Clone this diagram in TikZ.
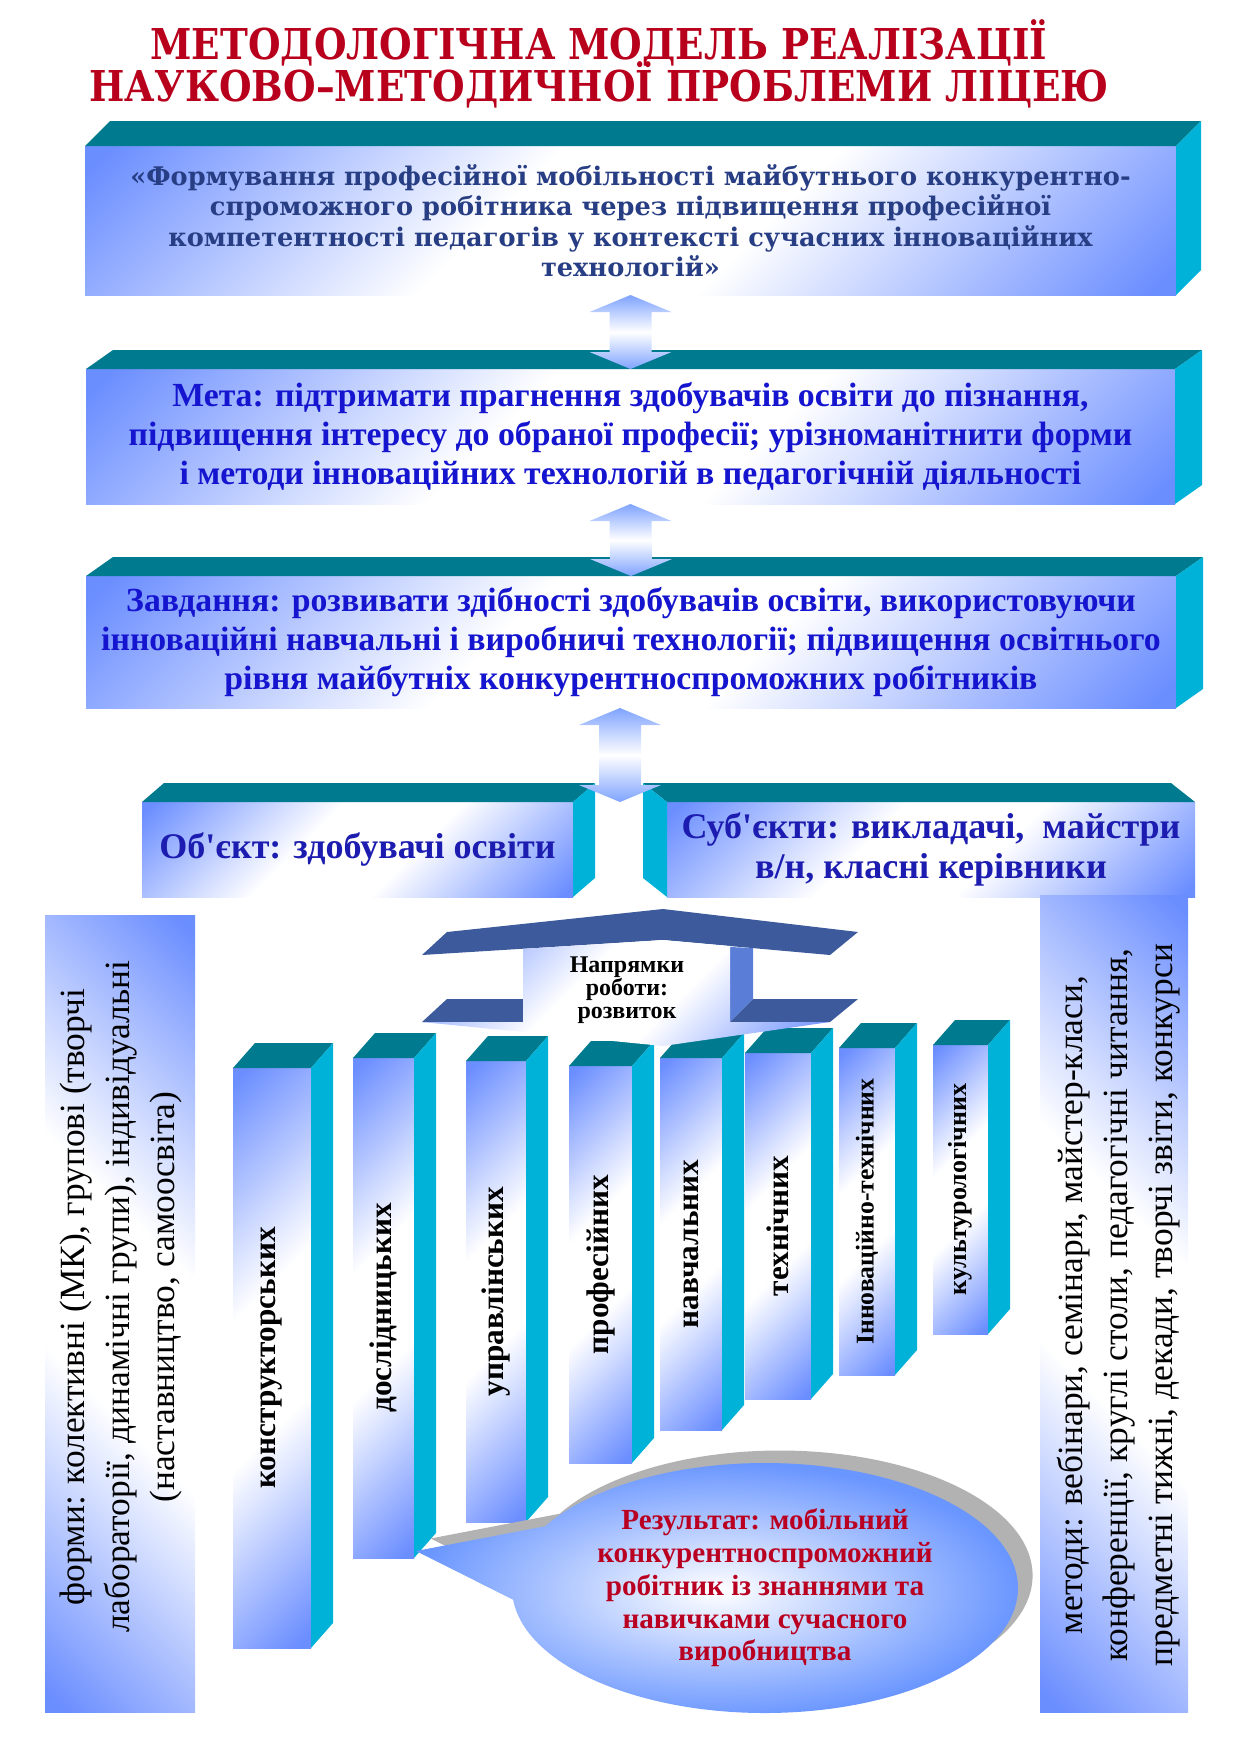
\documentclass[tikz,border=0pt]{standalone}
\usepackage{fontspec}
\setmainfont{Liberation Serif}
\newfontfamily\headfont[FakeStretch=0.88]{DejaVu Serif}
\newfontfamily\quotefont{DejaVu Serif}
\usetikzlibrary{calc, shapes.callouts, shadows}

\definecolor{glassblue}{HTML}{6B8EFF}
\definecolor{arrowblue}{HTML}{7FA3FF}
\definecolor{bubbleblue}{HTML}{6A96FF}
\definecolor{topteal}{HTML}{007A8E}
\definecolor{sidecyan}{HTML}{00B2D8}
\definecolor{roofblue}{HTML}{3D5B9C}
\definecolor{roofside}{HTML}{5A7ED8}
\definecolor{titlered}{HTML}{B8001C}
\definecolor{navytext}{HTML}{283E84}
\definecolor{goaltext}{HTML}{1515D0}
\definecolor{agenttext}{HTML}{1C1CB0}
\definecolor{resred}{HTML}{BA0020}

\pgfdeclareverticalshading{glass}{100bp}{color(0bp)=(glassblue); color(16bp)=(glassblue); color(42bp)=(white); color(58bp)=(white); color(84bp)=(glassblue); color(100bp)=(glassblue)}
\pgfdeclareverticalshading{arrowglass}{100bp}{color(0bp)=(arrowblue); color(25bp)=(arrowblue); color(50bp)=(white); color(75bp)=(arrowblue); color(100bp)=(arrowblue)}

% top and right faces of a front node
\newcommand\slab[3]{%
  \fill[topteal] (#1.north west) -- ++(#2,#3) -- ($(#1.north east)+(#2,#3)$) -- (#1.north east) -- cycle;
  \fill[sidecyan] (#1.north east) -- ++(#2,#3) -- ($(#1.south east)+(#2,#3)$) -- (#1.south east) -- cycle;}
% top and left faces
\newcommand\slableft[3]{%
  \fill[topteal] (#1.north west) -- ++(#2,#3) -- ($(#1.north east)+(#2,#3)$) -- (#1.north east) -- cycle;
  \fill[sidecyan] (#1.north west) -- ++(#2,#3) -- ($(#1.south west)+(#2,#3)$) -- (#1.south west) -- cycle;}
% block arrow with two heads, top tip to bottom tip
\newcommand\updown[2]{%
  \shade[shading=arrowglass] (#1) -- ++(41,17) -- ++(-20,0) -- ($(#2)+(21,-17)$) -- ++(20,0) -- (#2)
    -- ++(-41,-17) -- ++(20,0) -- ($(#1)+(-21,17)$) -- ++(-20,0) -- cycle;}

\begin{document}
\begin{tikzpicture}[x=0.48pt, y=-0.48pt,
  wh/.style 2 args={minimum width=#1*0.48pt, minimum height=#2*0.48pt},
  front/.style={shade, shading=glass, shading angle=45, inner sep=0pt, outer sep=0pt, align=center},
  panel/.style={shade, shading=glass, shading angle=-45, inner sep=0pt, outer sep=0pt},
  goalbox/.style={front, text=goaltext, font={\bfseries\fontsize{16.2}{18.8}\selectfont}},
  agentbox/.style={front, text=agenttext, font={\bfseries\fontsize{17.3}{19.3}\selectfont}},
  column/.style={front, font={\bfseries\fontsize{15}{17}\selectfont}},
  paneltext/.style={rotate=90, align=center, font={\fontsize{17}{21.6}\selectfont}},
  headline/.style={anchor=base, text=titlered, font={\headfont\bfseries\fontsize{20.4}{24}\selectfont}}
]
\useasboundingbox (0,0) rectangle (1241,1755);

% title
\node[headline] (title1) at (599,59) {МЕТОДОЛОГІЧНА МОДЕЛЬ РЕАЛІЗАЦІЇ};
\node[headline] (title2) at (599,101) {НАУКОВО–МЕТОДИЧНОЇ ПРОБЛЕМИ ЛІЦЕЮ};

% three wide slabs
\node[front, wh={1091}{149}, text=navytext, font={\quotefont\bfseries\fontsize{12.3}{14.6}\selectfont}] (theme) at (630.5,220.5)
  {«Формування професійної мобільності майбутнього конкурентно-\\спроможного робітника через підвищення професійної\\компетентності педагогів у контексті сучасних інноваційних\\технологій»};
\slab{theme}{25}{-25}
\node[goalbox, wh={1089}{135}] (goal) at (630.5,436.5)
  {Мета: підтримати прагнення здобувачів освіти до пізнання,\\підвищення інтересу до обраної професії; урізноманітнити форми\\і методи інноваційних технологій в педагогічній діяльності};
\slab{goal}{27}{-19}
\node[goalbox, wh={1090}{132}] (tasks) at (631,642)
  {Завдання: розвивати здібності здобувачів освіти, використовуючи\\інноваційні навчальні і виробничі технології; підвищення освітнього\\рівня майбутніх конкурентноспроможних робітників};
\slab{tasks}{27}{-19}

% object and subjects
\node[agentbox, wh={431}{95}] (object) at (357.5,849.5) {Об\textquotesingle єкт: здобувачі освіти};
\slab{object}{22}{-19}
\node[agentbox, wh={528}{95}] (subject) at (931,849.5) {Суб\textquotesingle єкти: викладачі,\ \ майстри\\в/н, класні керівники};
\slableft{subject}{-24}{-19}

% arrows
\coordinate (a1top) at (theme.south);
\coordinate (a1bot) at (goal.north);
\coordinate (a2top) at (goal.south);
\coordinate (a2bot) at (tasks.north);
\coordinate (a3bot) at ($(object.north east)!.5!(subject.north west)$);
\coordinate (a3top) at (tasks.south -| a3bot);
\updown{a1top}{a1bot}
\updown{a2top}{a2bot}
\updown{a3top}{a3bot}

% side panels
\node[panel, wh={150}{797}] (forms) at (120,1313.5) {};
\node[paneltext] (formstext) at (121,1297)
  {форми: колективні (МК), групові (творчі\\лабораторії, динамічні групи), індивідуальні\\(наставництво, самоосвіта)};
\node[panel, wh={148}{817}] (methods) at (1114,1303.5) {};
\node[paneltext] (methodstext) at (1119,1305)
  {методи: вебінари, семінари, майстер-класи,\\конференції, круглі столи, педагогічні читання,\\предметні тижні, декади, творчі звіти, конкурси};

% columns
\node[column, wh={78}{580}] (constr) at (272,1358) {\rotatebox{90}{конструкторських}};
\slab{constr}{22}{-25}
\node[column, wh={61}{500}] (research) at (383.5,1308) {\rotatebox{90}{дослідницьких}};
\slab{research}{22}{-25}
\node[column, wh={60}{461}] (manage) at (496,1291.5) {\rotatebox{90}{управлінських}};
\slab{manage}{22}{-25}
\node[column, wh={63}{397}] (prof) at (600.5,1264.5) {\rotatebox{90}{професійних}};
\slab{prof}{22}{-25}
\node[column, wh={62}{372}] (study) at (691,1244) {\rotatebox{90}{навчальних}};
\slab{study}{22}{-25}
\node[column, wh={66}{346}] (tech) at (778,1226) {\rotatebox{90}{технічних}};
\slab{tech}{22}{-25}
\node[column, wh={56}{327}, font={\bfseries\fontsize{12.3}{14}\selectfont}] (innov) at (867,1211.5) {\rotatebox{90}{Інноваційно-технічних}};
\slab{innov}{22}{-25}
\node[column, wh={55}{289}, font={\bfseries\fontsize{12.5}{14}\selectfont}] (culture) at (960.5,1189.5) {\rotatebox{90}{культурологічних}};
\slab{culture}{22}{-25}

% directions header
\fill[roofblue] (422,955) -- (447,932) -- (663,909) -- (858,932) -- (830,955) -- (663,940) -- cycle;
\fill[roofside] (730,947) -- (753,948) -- (753,999) -- (730,1022) -- cycle;
\fill[roofblue] (422,1022) -- (447,999) -- (523,999) -- (523,1022) -- cycle;
\fill[roofblue] (730,1022) -- (753,999) -- (858,999) -- (830,1022) -- cycle;
\shade[shading=glass, shading angle=45] (523,949) -- (663,940) -- (730,946) -- (730,1022) -- (830,1022) -- (663,1046) -- (422,1022) -- (523,1022) -- cycle;
\node[align=center, font={\bfseries\fontsize{11.5}{11}\selectfont}] (dirs) at (627,990) {Напрямки\\роботи:\\розвиток};

% result callout
\node[ellipse callout, callout absolute pointer={(416,1551)}, callout pointer arc=35, wh={506}{250}, inner sep=0pt,
  inner color=white, outer color=bubbleblue,
  drop shadow={shadow xshift=7pt, shadow yshift=6pt, fill=black!30, opacity=1},
  align=center, text=resred, font={\bfseries\fontsize{14}{15.7}\selectfont}] (result) at (765,1588)
  {Результат: мобільний\\конкурентноспроможний\\робітник із знаннями та\\навичками сучасного\\виробництва};
\end{tikzpicture}
\end{document}
